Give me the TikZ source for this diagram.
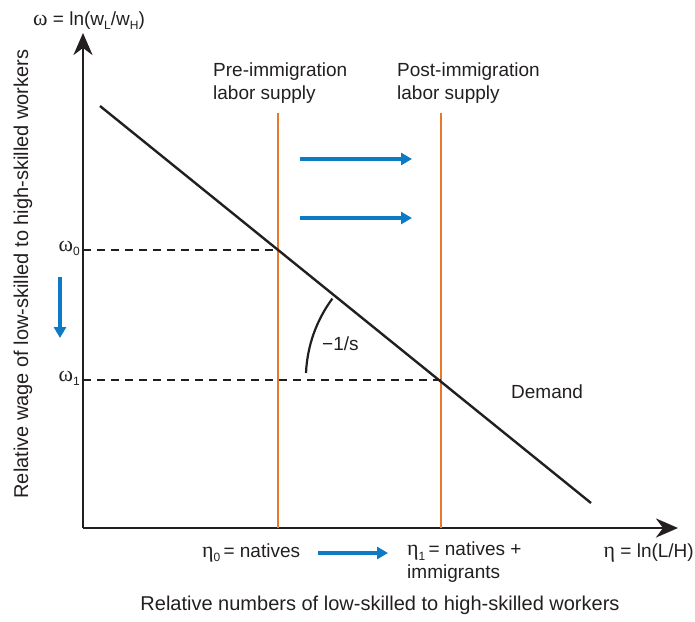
\documentclass[tikz,border=0pt]{standalone}
\usepackage{fontspec}
\setmainfont{Liberation Sans}
\newfontfamily\gkfont{Liberation Serif}
\usetikzlibrary{arrows.meta}
\definecolor{supplyorange}{HTML}{E8782A}
\definecolor{shiftblue}{HTML}{0A7BC4}
\definecolor{inkgray}{HTML}{231F20}
\newcommand{\sbs}[1]{\raisebox{-0.45ex}{\fontsize{12}{12}\selectfont #1}}
\newcommand{\om}{{\gkfont\fontsize{22}{22}\selectfont ω}}
\newcommand{\et}{{\gkfont\fontsize{22}{22}\selectfont η}}
\begin{document}
\begin{tikzpicture}[x=1pt,y=-1pt,
  lbl/.style={font=\fontsize{19}{23}\selectfont, inner sep=0pt, text=inkgray},
  titlelbl/.style={font=\fontsize{20}{23}\selectfont, inner sep=0pt, text=inkgray},
  axisline/.style={line width=2.6pt, draw=inkgray, -{Stealth[length=22pt,width=19pt,inset=7pt]}},
  demandline/.style={line width=2.4pt, draw=inkgray},
  supplyline/.style={line width=2.2pt, draw=supplyorange},
  guide/.style={line width=1.5pt, draw=inkgray, dash pattern=on 8pt off 6pt},
  shiftarrow/.style={line width=4pt, draw=shiftblue, -{Triangle[length=11pt,width=12pt]}},
  anglearc/.style={line width=2.2pt, draw=inkgray}]
\useasboundingbox (0,0) rectangle (695,621);

% axes
\coordinate (O) at (83,528);
\coordinate (ytip) at (83,33);
\coordinate (xtip) at (678,528);
\draw[axisline] (O) -- (ytip);
\draw[axisline] (O) -- (xtip);

% supply lines
\coordinate (s0top) at (278,113);
\coordinate (s1top) at (441,113);
\draw[supplyline] (s0top) -- (s0top |- O);
\draw[supplyline] (s1top) -- (s1top |- O);

% demand
\coordinate (dstart) at (100,106);
\coordinate (dend) at (591,503);
\draw[demandline] (dstart) -- (dend);

% equilibria and dashed guides
\coordinate (e0) at (278,250);
\coordinate (e1) at (441,380);
\draw[guide] (O |- e0) -- (e0);
\draw[guide] (O |- e1) -- (e1);

% angle arc
\coordinate (arcstart) at (306,373);
\draw[anglearc] (arcstart) arc[start angle=-177.5, end angle=-143.5, radius=135];

% blue shift arrows
\coordinate (a1s) at (300,159); \coordinate (a1e) at (412,159);
\coordinate (a2s) at (300,218); \coordinate (a2e) at (412,218);
\coordinate (a3s) at (60,277);  \coordinate (a3e) at (60,338);
\coordinate (a4s) at (318,553); \coordinate (a4e) at (388,553);
\draw[shiftarrow] (a1s) -- (a1e);
\draw[shiftarrow] (a2s) -- (a2e);
\draw[shiftarrow] (a3s) -- (a3e);
\draw[shiftarrow] (a4s) -- (a4e);

% labels
\node[lbl, anchor=base west] (ylab) at (33,25) {\om\ = ln(w\sbs{L}/w\sbs{H})};
\node[lbl, anchor=north west, align=left] (pre) at (213,63) {Pre-immigration\\labor supply};
\node[lbl, anchor=north west, align=left] (post) at (397,63) {Post-immigration\\labor supply};
\node[lbl, anchor=base east] (om0) at (80,251) {\om\sbs{0}};
\node[lbl, anchor=base east] (om1) at (80,381) {\om\sbs{1}};
\node[lbl, anchor=base west] (slope) at (322,350) {−1/s};
\node[lbl, anchor=base west] (dem) at (511,398) {Demand};
\node[lbl, anchor=base west] (eta0) at (202,557) {\et\sbs{0}\,= natives};
\node[lbl, anchor=north west, align=left] (eta1) at (407,542) {\et\sbs{1}\,= natives +\\immigrants};
\node[lbl, anchor=base east] (etax) at (694,557) {\et\ = ln(L/H)};
\node[titlelbl, anchor=base] (xtitle) at (380,610) {Relative numbers of low-skilled to high-skilled workers};
\node[titlelbl, anchor=base, rotate=90] (ytitle) at (28,274) {Relative wage of low-skilled to high-skilled workers};
\end{tikzpicture}
\end{document}
